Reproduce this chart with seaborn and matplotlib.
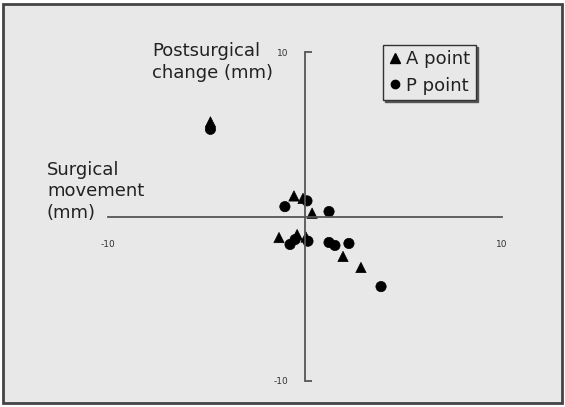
import pandas as pd
import matplotlib.pyplot as plt
import seaborn as sns
from matplotlib.patches import Rectangle

sns.set_style("white")
plt.rcParams['font.family'] = ['DejaVu Sans']

# valores (mm)
a_x = [-4.8, -0.56, -0.1, 0.36, -1.32, -0.4, 0.05, 1.93, 2.84]
a_y = [5.75, 1.25, 1.1, 0.2, -1.28, -1.1, -1.25, -2.43, -3.1]
p_x = [-4.8, -1.02, 0.1, 1.22, -0.76, -0.5, 0.15, 1.22, 1.52, 2.23, 3.86]
p_y = [5.3, 0.6, 0.95, 0.3, -1.7, -1.4, -1.5, -1.58, -1.76, -1.64, -4.26]
series = ['A point', 'P point']
ticks = [-10, 10]

df = pd.concat([
    pd.DataFrame({'x': a_x, 'y': a_y, 'punto': series[0]}),
    pd.DataFrame({'x': p_x, 'y': p_y, 'punto': series[1]}),
])

fig = plt.figure(figsize=(5.65, 4.07), dpi=100, facecolor='white')
fig.patches.append(Rectangle((3 / 565, 4 / 407), 559 / 565, 399 / 407,
                             transform=fig.transFigure, facecolor='#e8e8e8',
                             edgecolor='#444444', lw=2, zorder=-1))
ax = fig.add_axes([108 / 565, 26 / 407, 394 / 565, 329 / 407])
ax.set_facecolor('none')

sns.scatterplot(data=df, x='x', y='y', style='punto',
                markers={'A point': '^', 'P point': 'o'},
                color='black', s=55, edgecolor='black', linewidth=0.5,
                ax=ax, legend=False)

ax.set_xlim(-10, 10)
ax.set_ylim(-10, 10)

# ejes cruzados en el origen
for side in ['top', 'right']:
    ax.spines[side].set_visible(False)
ax.spines['left'].set_position(('data', 0))
ax.spines['bottom'].set_position(('data', 0))
for side in ['left', 'bottom']:
    ax.spines[side].set_color('#555555')
    ax.spines[side].set_linewidth(1.3)

ax.set_xticks(ticks)
ax.set_yticks(ticks)
ax.set_xticklabels([str(t) for t in ticks])
ax.set_yticklabels([str(t) for t in ticks])
ax.tick_params(axis='x', length=0, pad=17, labelsize=6.5, labelcolor='#333333')
ax.tick_params(axis='y', direction='in', length=5, width=1.3, color='#555555',
               pad=12, labelsize=6.5, labelcolor='#333333', left=True)
ax.set_xlabel('')
ax.set_ylabel('')

fig.text(152 / 565, 1 - 62 / 407, 'Postsurgical\nchange (mm)', fontsize=13,
         color='#222222', ha='left', va='center', linespacing=1.35)
fig.text(47 / 565, 1 - 191 / 407, 'Surgical\nmovement\n(mm)', fontsize=13,
         color='#222222', ha='left', va='center', linespacing=1.25)

# leyenda manual con sombra fina
h_a = plt.Line2D([], [], marker='^', color='black', ls='', markersize=7)
h_p = plt.Line2D([], [], marker='o', color='black', ls='', markersize=6)
leg = ax.legend([h_a, h_p], series, loc='upper left',
                bbox_to_anchor=(383 / 565, 1 - 45 / 407),
                bbox_transform=fig.transFigure, fontsize=13, frameon=True,
                fancybox=False, shadow={'ox': 1.5, 'oy': -1.5, 'color': '#555555', 'alpha': 1},
                handlelength=0.7, handletextpad=0.3, borderpad=0.3,
                labelspacing=0.45, borderaxespad=0)
leg.get_frame().set_edgecolor('#333333')
leg.get_frame().set_facecolor('#e8e8e8')
leg.get_frame().set_linewidth(1.0)
for t in leg.get_texts():
    t.set_color('#222222')

plt.savefig('out.png', dpi=100, facecolor=fig.get_facecolor())
